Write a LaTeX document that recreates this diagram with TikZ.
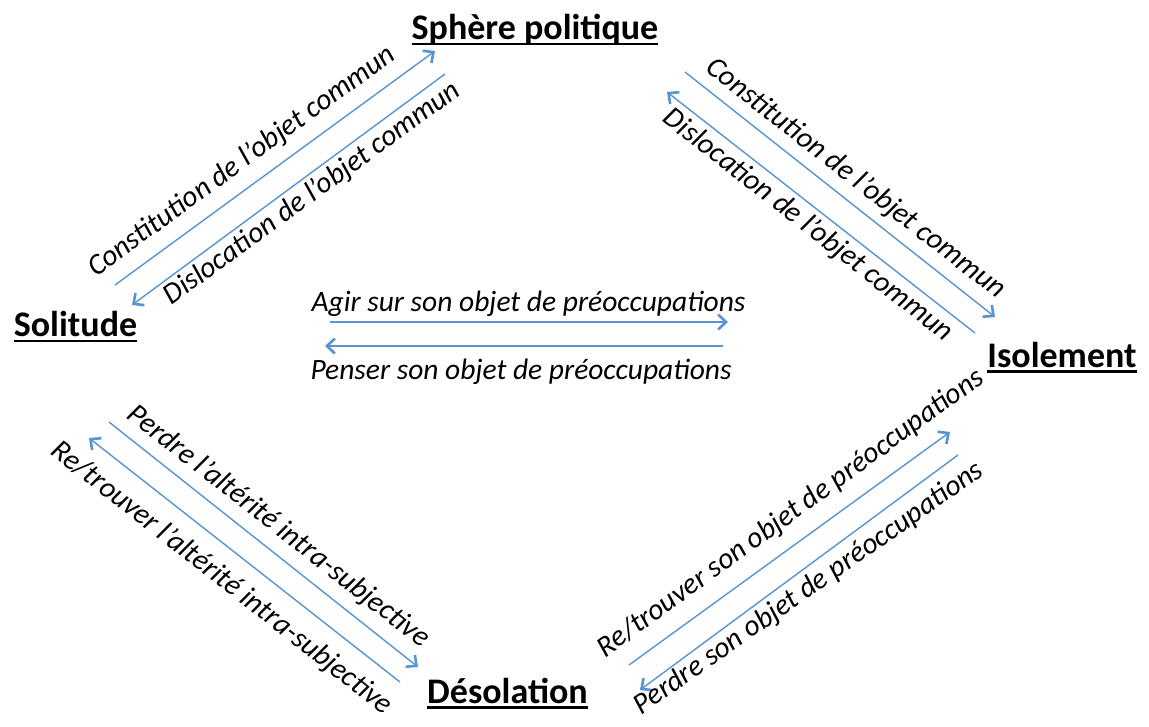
\documentclass[tikz,border=0pt]{standalone}
\usepackage{fontspec}
\setmainfont{Carlito}
\usetikzlibrary{arrows.meta}
\definecolor{arrblue}{RGB}{88,148,208}
\newcommand\myul[1]{\setbox0\hbox{#1}\rlap{\rule[-5.5pt]{\wd0}{2.4pt}}\box0}
\begin{document}
\begin{tikzpicture}[x=1pt,y=-1pt,
  main/.style={font=\fontsize{36}{40}\selectfont\bfseries, inner sep=0pt, anchor=base},
  lab/.style={font=\fontsize{29.5}{33}\selectfont\itshape, inner sep=0pt, anchor=mid},
  conn/.style={draw=arrblue, line width=1.4pt, -{Straight Barb[length=8pt,width=15pt,line width=2.6pt]}}]
\useasboundingbox (0,0) rectangle (1149,727);
\fill[white] (0,0) rectangle (1149,727);
% main nodes
\node[main] (sph) at (535,40) {\myul{Sphère politique}};
\node[main] (sol) at (75.5,337) {\myul{Solitude}};
\node[main] (iso) at (1062,367) {\myul{Isolement}};
\node[main] (deso) at (507.5,703) {\myul{Désolation}};
% arrow end points
\coordinate (c1s) at (115,285); \coordinate (c1e) at (435,51);
\coordinate (d1s) at (445,74);  \coordinate (d1e) at (132,305);
\coordinate (c2s) at (685,72);  \coordinate (c2e) at (995,317);
\coordinate (d2s) at (975,333); \coordinate (d2e) at (667,92);
\coordinate (p1s) at (109,422); \coordinate (p1e) at (418,667);
\coordinate (r1s) at (400,682); \coordinate (r1e) at (89,438);
\coordinate (r2s) at (629,665); \coordinate (r2e) at (950,432);
\coordinate (p2s) at (958,455); \coordinate (p2e) at (640,690);
\coordinate (as) at (330,322);  \coordinate (ae) at (728,322);
\coordinate (ps) at (723,346);  \coordinate (pe) at (325,346);
% arrows
\draw[conn] (c1s) -- (c1e);
\draw[conn] (d1s) -- (d1e);
\draw[conn] (c2s) -- (c2e);
\draw[conn] (d2s) -- (d2e);
\draw[conn] (p1s) -- (p1e);
\draw[conn] (r1s) -- (r1e);
\draw[conn] (r2s) -- (r2e);
\draw[conn] (p2s) -- (p2e);
\draw[conn] (as) -- (ae);
\draw[conn] (ps) -- (pe);
% labels
\node[lab, rotate=36] (l1) at (245,166) {Constitution de l’objet commun};
\node[lab, rotate=36] (l2) at (315.5,198) {Dislocation de l’objet commun};
\node[lab, rotate=-38] (l3) at (852,183) {Constitution de l’objet commun};
\node[lab, rotate=-38] (l4) at (804.5,229.5) {Dislocation de l’objet commun};
\node[lab, rotate=-38] (l5) at (275,531) {Perdre l’altérité intra-subjective};
\node[lab, rotate=-38] (l6) at (218,582.5) {Re/trouver l’altérité intra-subjective};
\node[lab, rotate=36] (l7) at (794,518) {Re/trouver son objet de préoccupations};
\node[lab, rotate=35] (l8) at (812,593) {Perdre son objet de préoccupations};
\node[lab, anchor=base] (l9) at (528.5,312) {Agir sur son objet de préoccupations};
\node[lab, anchor=base] (l10) at (521,380) {Penser son objet de préoccupations};
\end{tikzpicture}
\end{document}
